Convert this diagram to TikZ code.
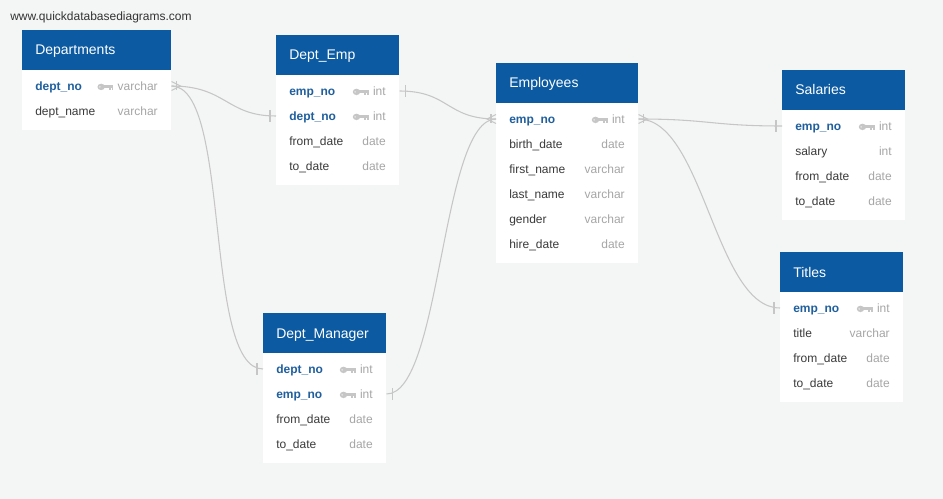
\documentclass[tikz,border=0pt]{standalone}
\usepackage{fontspec}
\setmainfont{Liberation Sans}
\definecolor{canvas}{HTML}{F4F5F5}
\definecolor{hdrblue}{HTML}{0B5AA2}
\definecolor{keyblue}{HTML}{1F5F9E}
\definecolor{txtgray}{HTML}{3A3A3A}
\definecolor{typegray}{HTML}{A6A6A6}
\definecolor{icongray}{HTML}{C6C6C6}
\definecolor{linegray}{HTML}{C6C6C6}

% whole table card (#1 id, #2 left, #3 top, #4 width, #5 rows, #6 title)
\newcommand\ertable[6]{%
  \node[cardbox, minimum width={#4*0.75pt}, minimum height={(50+25*#5)*0.75pt}, anchor=north west] (#1) at (#2,#3) {};
  \node[hdrbox, minimum width={#4*0.75pt}, minimum height={40*0.75pt}, anchor=north west] (#1-h) at (#2,#3) {};
  \node[tabtitle] (#1-t) at (#2+13,#3+25) {#6};}
% ordinary field (#1 id, #2 left, #3 row y, #4 right, #5 name, #6 type)
\newcommand\fieldrow[6]{%
  \node[fname] (#1) at (#2+13,#3+4.3) {#5};
  \node[ftype] (#1-ty) at (#4-13,#3+4.3) {#6};}
% primary key field
\newcommand\keyrow[6]{%
  \node[kname] (#1) at (#2+13,#3+4.3) {#5};
  \node[ftype] (#1-ty) at (#4-13,#3+4.3) {#6};
  \pic at ([xshift=-3pt]#1-ty.west |- 0,#3) {keyicon};}

\begin{document}
\begin{tikzpicture}[x=0.75pt,y=-0.75pt,
  cardbox/.style={fill=white, draw=none, inner sep=0},
  hdrbox/.style={fill=hdrblue, draw=none, inner sep=0},
  tabtitle/.style={anchor=base west, inner sep=0, text=white, font=\fontsize{10.5}{12}\selectfont},
  fname/.style={anchor=base west, inner sep=0, text=txtgray, font=\fontsize{9}{11}\selectfont},
  kname/.style={anchor=base west, inner sep=0, text=keyblue, font=\fontsize{9}{11}\selectfont\bfseries},
  ftype/.style={anchor=base east, inner sep=0, text=typegray, font=\fontsize{9}{11}\selectfont},
  rel/.style={draw=linegray, line width=0.8pt},
  keyicon/.pic={
    \fill[icongray] (-12.3,0.9) ellipse (3.7 and 3.2);
    \fill[white!60!icongray] (-13.6,0.9) circle (0.9);
    \fill[icongray] (-10,-0.6) rectangle (0,2.2);
    \fill[icongray] (-4.6,2) rectangle (-2.7,4);
    \fill[icongray] (-1.8,2) rectangle (0,3.6);
  },
  crow/.pic={
    \draw[rel] (0,-4.5) -- (9,0) -- (0,4.5);
    \draw[rel] (5,-4.5) -- (5,4.5);
  },
  onebar/.pic={
    \draw[rel] (6,-6) -- (6,6);
  }]

\fill[canvas] (0,0) rectangle (943,499);
\useasboundingbox (0,0) rectangle (943,499);

\node[anchor=base west, inner sep=0, text=black!80, font=\fontsize{9}{11}\selectfont] (site) at (10,20.5) {www.quickdatabasediagrams.com};

% Departments
\ertable{dep}{22}{30}{149}{2}{Departments}
\keyrow{dep1}{22}{86}{171}{dept\_no}{varchar}
\fieldrow{dep2}{22}{111}{171}{dept\_name}{varchar}

% Dept_Emp
\ertable{de}{276}{35}{123}{4}{Dept\_Emp}
\keyrow{de1}{276}{91}{399}{emp\_no}{int}
\keyrow{de2}{276}{116}{399}{dept\_no}{int}
\fieldrow{de3}{276}{141}{399}{from\_date}{date}
\fieldrow{de4}{276}{166}{399}{to\_date}{date}

% Employees
\ertable{emp}{496}{63}{142}{6}{Employees}
\keyrow{emp1}{496}{119}{638}{emp\_no}{int}
\fieldrow{emp2}{496}{144}{638}{birth\_date}{date}
\fieldrow{emp3}{496}{169}{638}{first\_name}{varchar}
\fieldrow{emp4}{496}{194}{638}{last\_name}{varchar}
\fieldrow{emp5}{496}{219}{638}{gender}{varchar}
\fieldrow{emp6}{496}{244}{638}{hire\_date}{date}

% Salaries
\ertable{sal}{782}{70}{123}{4}{Salaries}
\keyrow{sal1}{782}{126}{905}{emp\_no}{int}
\fieldrow{sal2}{782}{151}{905}{salary}{int}
\fieldrow{sal3}{782}{176}{905}{from\_date}{date}
\fieldrow{sal4}{782}{201}{905}{to\_date}{date}

% Titles
\ertable{tit}{780}{252}{123}{4}{Titles}
\keyrow{tit1}{780}{308}{903}{emp\_no}{int}
\fieldrow{tit2}{780}{333}{903}{title}{varchar}
\fieldrow{tit3}{780}{358}{903}{from\_date}{date}
\fieldrow{tit4}{780}{383}{903}{to\_date}{date}

% Dept_Manager
\ertable{dm}{263}{313}{123}{4}{Dept\_Manager}
\keyrow{dm1}{263}{369}{386}{dept\_no}{int}
\keyrow{dm2}{263}{394}{386}{emp\_no}{int}
\fieldrow{dm3}{263}{419}{386}{from\_date}{date}
\fieldrow{dm4}{263}{444}{386}{to\_date}{date}

% connector end points on the card edges
\coordinate (pDep) at (dep.east |- 0,86);
\coordinate (pDeDept) at (de.west |- 0,116);
\coordinate (pDeEmp) at (de.east |- 0,91);
\coordinate (pEmpL) at (emp.west |- 0,119);
\coordinate (pEmpR) at (emp.east |- 0,119);
\coordinate (pSal) at (sal.west |- 0,126);
\coordinate (pTit) at (tit.west |- 0,308);
\coordinate (pDmDept) at (dm.west |- 0,369);
\coordinate (pDmEmp) at (dm.east |- 0,394);

% relationships
\draw[rel] (pDep) .. controls +(55,0) and +(-50,0) .. (pDeDept);
\draw[rel] (pDep) .. controls +(60,0) and +(-60,0) .. (pDmDept);
\draw[rel] (pDeEmp) .. controls +(50,0) and +(-50,0) .. (pEmpL);
\draw[rel] (pDmEmp) .. controls +(55,0) and +(-55,0) .. (pEmpL);
\draw[rel] (pEmpR) .. controls +(70,0) and +(-70,0) .. (pSal);
\draw[rel] (pEmpR) .. controls +(65,0) and +(-65,0) .. (pTit);

% cardinality marks
\pic at (pDep) {crow};
\pic[xscale=-1] at (pEmpL) {crow};
\pic at (pEmpR) {crow};
\pic[xscale=-1] at (pDeDept) {onebar};
\pic[xscale=-1] at (pDmDept) {onebar};
\pic at (pDeEmp) {onebar};
\pic at (pDmEmp) {onebar};
\pic[xscale=-1] at (pSal) {onebar};
\pic[xscale=-1] at (pTit) {onebar};
\end{tikzpicture}
\end{document}
